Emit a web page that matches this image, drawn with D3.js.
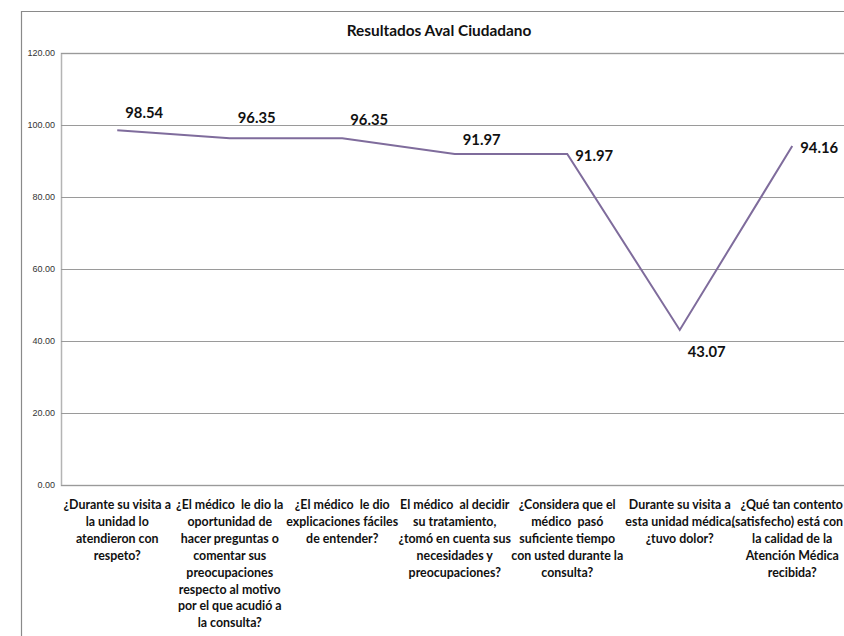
<!DOCTYPE html>
<html>
<head>
<meta charset="utf-8">
<script src="https://cdn.jsdelivr.net/npm/d3@7"></script>
<style>
  html, body { margin: 0; padding: 0; background: #fff; }
  svg { display: block; }
  .cat text { white-space: pre; }
</style>
</head>
<body>
<svg id="chart" width="844" height="636"></svg>
<script>
// Survey questions, each stored with the line breaks used in the axis labels
const categoryLines = [
  ["¿Durante su visita a", "la unidad lo", "atendieron con", "respeto?"],
  ["¿El médico  le dio la", "oportunidad de", "hacer preguntas o", "comentar sus", "preocupaciones", "respecto al motivo", "por el que acudió a", "la consulta?"],
  ["¿El médico  le dio", "explicaciones fáciles", "de entender?"],
  ["El médico  al decidir", "su tratamiento,", "¿tomó en cuenta sus", "necesidades y", "preocupaciones?"],
  ["¿Considera que el", "médico  pasó", "suficiente tiempo", "con usted durante la", "consulta?"],
  ["Durante su visita a", "esta unidad médica,", "¿tuvo dolor?"],
  ["¿Qué tan contento", "(satisfecho) está con", "la calidad de la", "Atención Médica", "recibida?"]
];
const values = [98.54, 96.35, 96.35, 91.97, 91.97, 43.07, 94.16];
const yTicks = [0, 20, 40, 60, 80, 100, 120];
const title = "Resultados Aval Ciudadano";

// Vertical nudges for the value labels (px, relative to the point)
const labelDy = [-17, -20, -18, -14, 2, 22, 2];

const W = 844;
const svg = d3.select("#chart");
const plot = { left: 61, top: 53, right: 848.5, bottom: 485 };

const categories = categoryLines.map(l => l.join(" "));
const x = d3.scalePoint().domain(categories).range([plot.left, plot.right]).padding(0.5);
const y = d3.scaleLinear().domain([0, 120]).range([plot.bottom, plot.top]);

// Outer chart frame
svg.append("path")
  .attr("d", `M21.5,640 V11.5 H850`)
  .attr("fill", "none").attr("stroke", "#8a8a8a").attr("stroke-width", 1.2);

// Title
svg.append("text")
  .attr("x", 439).attr("y", 36)
  .attr("text-anchor", "middle")
  .style("font-family", "Lato, 'Open Sans', sans-serif")
  .style("font-weight", "bold").style("font-size", "15.4px").attr("fill", "#111")
  .text(title);

// Gridlines and value axis
const yAxis = d3.axisLeft(y).tickValues(yTicks)
  .tickFormat(d3.format(".2f"))
  .tickSize(-(plot.right - plot.left)).tickPadding(6);
const gy = svg.append("g").attr("transform", `translate(${plot.left},0)`).call(yAxis);
gy.select(".domain").attr("stroke", "#b4b4b4").attr("stroke-width", 1.5);
gy.selectAll(".tick line").attr("stroke", "#9a9a9a").attr("stroke-width", 1.2);
gy.selectAll(".tick text")
  .style("font-family", "'Liberation Sans', Arial, sans-serif")
  .style("font-size", "9px").attr("fill", "#333");

// Category axis labels (lines nudged inward if they would run past the right edge)
const cat = svg.append("g").attr("class", "cat");
categoryLines.forEach((lines, i) => {
  const cx = x(categories[i]);
  const t = cat.append("text")
    .attr("x", cx).attr("y", 509)
    .attr("text-anchor", "middle")
    .style("font-family", "Lato, 'Open Sans', sans-serif")
    .style("font-weight", "bold").style("font-size", "12.4px").attr("fill", "#111");
  lines.forEach((ln, j) => {
    const ts = t.append("tspan").attr("x", cx).attr("dy", j === 0 ? 0 : 16.9).text(ln);
    const w = ts.node().getComputedTextLength();
    if (cx + w / 2 > W - 1) ts.attr("x", W - 1 - w / 2);
  });
});

// Series line
const line = d3.line().x((d, i) => x(categories[i])).y(d => y(d));
svg.append("path")
  .datum(values)
  .attr("d", line)
  .attr("fill", "none").attr("stroke", "#7f6c9c").attr("stroke-width", 2);

// Value labels
svg.append("g").selectAll("text").data(values).join("text")
  .attr("x", (d, i) => x(categories[i]) + 8)
  .attr("y", (d, i) => y(d) + labelDy[i] + 5)
  .style("font-family", "Lato, 'Open Sans', sans-serif")
  .style("font-weight", "bold").style("font-size", "14.8px").attr("fill", "#111")
  .text(d => d3.format(".2f")(d));
</script>
</body>
</html>
